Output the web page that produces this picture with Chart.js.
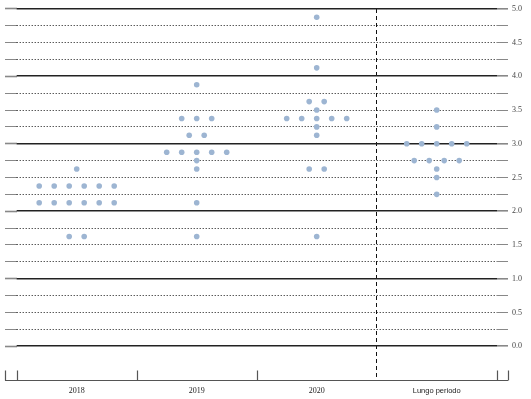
<!DOCTYPE html>
<html>
<head>
<meta charset="utf-8">
<script src="https://cdn.jsdelivr.net/npm/chart.js@4"></script>
<style>
    html, body { margin: 0; padding: 0; background: #fff; }
    #wrap { width: 531px; height: 399px; }
</style>
</head>
<body>
<div id="wrap"><canvas id="dotChart"></canvas></div>
<script>
// Periods on the x axis
const periods = ['2018', '2019', '2020', 'Lungo periodo'];

// One value per participant (midpoint of target range, %)
const dots2018 = [2.625,
    2.375, 2.375, 2.375, 2.375, 2.375, 2.375,
    2.125, 2.125, 2.125, 2.125, 2.125, 2.125,
    1.625, 1.625];
const dots2019 = [3.875,
    3.375, 3.375, 3.375,
    3.125, 3.125,
    2.875, 2.875, 2.875, 2.875, 2.875,
    2.75, 2.625, 2.125, 1.625];
const dots2020 = [4.875, 4.125,
    3.625, 3.625, 3.5,
    3.375, 3.375, 3.375, 3.375, 3.375,
    3.25, 3.125, 2.625, 2.625, 1.625];
const dotsLongRun = [3.5, 3.25,
    3.0, 3.0, 3.0, 3.0, 3.0,
    2.75, 2.75, 2.75, 2.75,
    2.625, 2.5, 2.25];

// Horizontal grid levels
const rateTicks = [0, 0.25, 0.5, 0.75, 1, 1.25, 1.5, 1.75, 2, 2.25, 2.5, 2.75,
    3, 3.25, 3.5, 3.75, 4, 4.25, 4.5, 4.75, 5];

// spread dots sharing the same value side by side around the period centre
function rowPoints(values, idx) {
    const counts = {};
    values.forEach(v => counts[v] = (counts[v] || 0) + 1);
    const seen = {};
    return values.map(v => {
        seen[v] = (seen[v] || 0) + 1;
        const k = seen[v] - 1;
        return { x: idx + 0.5 + (k - (counts[v] - 1) / 2) * 0.125, y: v };
    });
}

const points = [dots2018, dots2019, dots2020, dotsLongRun]
    .map((vals, i) => rowPoints(vals, i))
    .flat();

const isInt = ctx => ctx.tick && Number.isInteger(ctx.tick.value);

// bottom bracket with little upward ticks at the period boundaries
const bracket = {
    id: 'bracket',
    afterDraw(chart) {
        const { ctx, chartArea, scales } = chart;
        const yb = Math.round(chartArea.bottom) - 0.5;
        const x0 = chartArea.left - 11.7;
        const x1 = chartArea.right + 11.3;
        const xs = [x0, ...[0, 1, 2, 4].map(v => scales.x.getPixelForValue(v)), x1];
        ctx.save();
        ctx.strokeStyle = '#555';
        ctx.lineWidth = 1.2;
        ctx.beginPath();
        ctx.moveTo(x0, yb);
        ctx.lineTo(x1, yb);
        xs.forEach(x => {
            ctx.moveTo(Math.round(x) + 0.5, yb);
            ctx.lineTo(Math.round(x) + 0.5, yb - 10);
        });
        ctx.stroke();
        ctx.restore();
    }
};

new Chart(document.getElementById('dotChart'), {
    type: 'scatter',
    data: {
        datasets: [{
            data: points,
            backgroundColor: '#9db5d2',
            borderWidth: 0,
            pointRadius: 2.8,
            pointHoverRadius: 2.8
        }]
    },
    options: {
        responsive: true,
        maintainAspectRatio: false,
        animation: false,
        layout: { padding: { left: 5, right: 0, top: 7, bottom: 0 } },
        plugins: {
            legend: { display: false },
            tooltip: { enabled: false }
        },
        scales: {
            x: {
                type: 'linear',
                position: 'bottom',
                min: 0,
                max: 4,
                afterBuildTicks: s => { s.ticks = periods.map((p, i) => ({ value: i + 0.5 })); },
                afterFit: s => { s.height = 18; },
                grid: { display: false, drawTicks: false },
                border: { display: false },
                ticks: {
                    autoSkip: false,
                    maxRotation: 0,
                    padding: 5,
                    color: '#222',
                    callback: (v, i) => periods[i],
                    font: ctx => (ctx.tick && ctx.tick.value === 3.5)
                        ? { family: 'Liberation Sans', size: 7.5 }
                        : { family: 'Liberation Serif', size: 8 }
                }
            },
            x2: {
                type: 'linear',
                position: 'top',
                min: 0,
                max: 4,
                afterBuildTicks: s => { s.ticks = [{ value: 3 }]; },
                afterFit: s => { s.height = 0; },
                ticks: { display: false },
                grid: { drawTicks: false, color: '#111', lineWidth: 1 },
                border: { display: false, dash: [4, 3] }
            },
            y: {
                type: 'linear',
                position: 'left',
                min: -0.516,
                max: 5,
                afterBuildTicks: s => { s.ticks = rateTicks.map(v => ({ value: v })); },
                afterFit: s => { s.width = 11.7; },
                ticks: { display: false },
                grid: {
                    drawOnChartArea: false,
                    drawTicks: true,
                    tickLength: 11.7,
                    tickColor: '#888',
                    tickWidth: ctx => isInt(ctx) ? 1.6 : 1
                },
                border: { display: false }
            },
            yr: {
                type: 'linear',
                position: 'right',
                min: -0.516,
                max: 5,
                afterBuildTicks: s => { s.ticks = rateTicks.map(v => ({ value: v })); },
                afterFit: s => { s.width = 34.3; },
                ticks: {
                    autoSkip: false,
                    padding: 4,
                    color: '#444',
                    font: { family: 'Liberation Serif', size: 8 },
                    callback: v => (v % 0.5 === 0) ? v.toFixed(1) : ''
                },
                grid: {
                    drawOnChartArea: true,
                    drawTicks: true,
                    tickLength: 11.3,
                    tickColor: '#888',
                    color: ctx => isInt(ctx) ? '#222' : '#111',
                    lineWidth: ctx => isInt(ctx) ? 1.6 : 1,
                    tickWidth: ctx => isInt(ctx) ? 1.6 : 1
                },
                border: { display: false, dash: ctx => isInt(ctx) ? [] : [1, 2] }
            }
        }
    },
    plugins: [bracket]
});
</script>
</body>
</html>
